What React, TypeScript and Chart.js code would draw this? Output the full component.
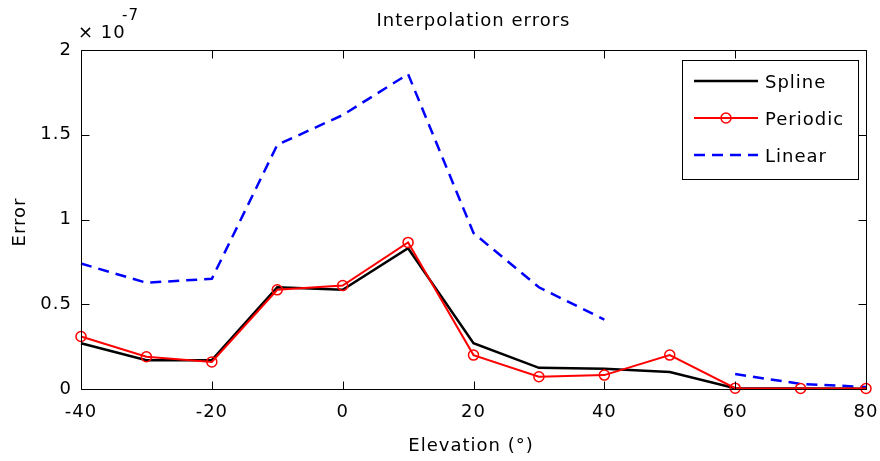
import React, { useEffect, useRef } from 'react';
import { Chart, registerables } from 'chart.js';
Chart.register(...registerables);

const elevations = [-40, -30, -20, -10, 0, 10, 20, 30, 40, 50, 60, 70, 80];
const splineErr = [0.27, 0.17, 0.17, 0.6, 0.585, 0.83, 0.27, 0.125, 0.12, 0.1, 0.005, 0.003, 0.002];
const periodicErr = [0.31, 0.19, 0.16, 0.585, 0.61, 0.865, 0.2, 0.072, 0.082, 0.2, 0.005, 0.003, 0.003];
const linearErr = [0.74, 0.627, 0.65, 1.44, 1.616, 1.858, 0.92, 0.6, 0.41, null, 0.088, 0.03, 0.012];
const xTicks = [-40, -20, 0, 20, 40, 60, 80];
const yTicks = [0, 0.5, 1, 1.5, 2];
const seriesNames = ['Spline', 'Periodic', 'Linear'];
const titleText = 'Interpolation errors';
const xTitle = 'Elevation (°)';
const yTitle = 'Error';
const multiplierBase = '× 10';
const multiplierExp = '-7';

const FONT = '"DejaVu Sans", sans-serif';
const TEXT = '#000';

const toPts = (arr: (number | null)[]) => elevations.map((x, i) => ({ x, y: arr[i] }));

const decor = {
  id: 'decor',
  beforeDraw(chart: any) {
    chart.ctx.letterSpacing = '1px';
  },
  afterDatasetsDraw(chart: any) {
    const { ctx, chartArea: a, scales } = chart;
    ctx.save();
    ctx.strokeStyle = '#000';
    ctx.lineWidth = 1;
    const L = Math.round(a.left) + 0.5, R = Math.round(a.right) + 0.5;
    const T = Math.round(a.top) + 0.5, B = Math.round(a.bottom) + 0.5;
    ctx.beginPath();
    ctx.rect(L, T, R - L, B - T);
    const tl = 8;
    scales.x.ticks.forEach((t: any) => {
      const px = Math.round(scales.x.getPixelForValue(t.value)) + 0.5;
      ctx.moveTo(px, B); ctx.lineTo(px, B - tl);
      ctx.moveTo(px, T); ctx.lineTo(px, T + tl);
    });
    scales.y.ticks.forEach((t: any) => {
      const py = Math.round(scales.y.getPixelForValue(t.value)) + 0.5;
      ctx.moveTo(L, py); ctx.lineTo(L + tl, py);
      ctx.moveTo(R, py); ctx.lineTo(R - tl, py);
    });
    ctx.stroke();
    ctx.restore();
  },
  afterDraw(chart: any) {
    const { ctx, chartArea: a } = chart;
    ctx.save();
    ctx.letterSpacing = '1px';
    ctx.fillStyle = TEXT;
    ctx.font = `18px ${FONT}`;
    ctx.textAlign = 'center';
    ctx.textBaseline = 'middle';
    ctx.fillText(titleText, (a.left + a.right) / 2, 21);
    ctx.fillText(xTitle, 471, 446);
    ctx.save();
    ctx.translate(20, 222);
    ctx.rotate(-Math.PI / 2);
    ctx.fillText(yTitle, 0, 0);
    ctx.restore();
    ctx.textAlign = 'left';
    ctx.fillText(multiplierBase, 78, 33);
    ctx.font = `15px ${FONT}`;
    ctx.fillText(multiplierExp, 122, 16);

    // legend
    const bx = 682.5, by = 60.5, bw = 176, bh = 119;
    ctx.fillStyle = '#fff';
    ctx.fillRect(bx, by, bw, bh);
    ctx.strokeStyle = '#000';
    ctx.lineWidth = 1;
    ctx.strokeRect(bx, by, bw, bh);
    const rows = [81, 118, 155];
    chart.data.datasets.forEach((ds: any, i: number) => {
      const y = rows[i];
      ctx.save();
      ctx.strokeStyle = ds.borderColor;
      ctx.lineWidth = ds.borderWidth;
      ctx.setLineDash(ds.borderDash || []);
      ctx.beginPath();
      ctx.moveTo(694, y);
      ctx.lineTo(758, y);
      ctx.stroke();
      ctx.setLineDash([]);
      if (ds.pointRadius > 0) {
        ctx.lineWidth = ds.pointBorderWidth;
        ctx.beginPath();
        ctx.arc(726, y, ds.pointRadius, 0, Math.PI * 2);
        ctx.stroke();
      }
      ctx.restore();
      ctx.fillStyle = TEXT;
      ctx.font = `18px ${FONT}`;
      ctx.textAlign = 'left';
      ctx.textBaseline = 'middle';
      ctx.fillText(ds.label, 765, y + 2);
    });
    ctx.restore();
  },
};

export default function App() {
  const ref = useRef<HTMLCanvasElement>(null);
  useEffect(() => {
    document.body.style.margin = '0';
    const chart = new Chart(ref.current!, {
      type: 'line',
      data: {
        datasets: [
          {
            label: seriesNames[0],
            data: toPts(splineErr),
            borderColor: '#000000',
            borderWidth: 2.5,
            pointRadius: 0,
            tension: 0,
            order: 1,
            clip: false,
          },
          {
            label: seriesNames[1],
            data: toPts(periodicErr),
            borderColor: '#ff0000',
            borderWidth: 2,
            pointRadius: 5,
            pointStyle: 'circle',
            pointBorderColor: '#ff0000',
            pointBorderWidth: 1.5,
            pointBackgroundColor: 'rgba(0,0,0,0)',
            tension: 0,
            order: 0,
            clip: false,
          },
          {
            label: seriesNames[2],
            data: toPts(linearErr),
            borderColor: '#0000ff',
            borderWidth: 2.5,
            borderDash: [11, 7],
            pointRadius: 0,
            tension: 0,
            spanGaps: false,
            order: 2,
            clip: false,
          },
        ] as any,
      },
      options: {
        animation: false,
        responsive: true,
        maintainAspectRatio: false,
        layout: { padding: { top: 50, right: 14, left: 0, bottom: 0 } },
        plugins: { legend: { display: false }, tooltip: { enabled: false }, title: { display: false } },
        scales: {
          x: {
            type: 'linear',
            min: -40,
            max: 80,
            afterBuildTicks: (s: any) => { s.ticks = xTicks.map((v) => ({ value: v })); },
            afterFit: (s: any) => { s.height = 72; s.paddingLeft = 0; s.paddingRight = 0; },
            grid: { display: false, drawTicks: false },
            border: { display: false },
            ticks: { color: TEXT, font: { family: FONT, size: 18 }, padding: 13, maxRotation: 0, autoSkip: false, callback: (v: any) => String(v) },
          },
          y: {
            type: 'linear',
            min: 0,
            max: 2,
            afterBuildTicks: (s: any) => { s.ticks = yTicks.map((v) => ({ value: v })); },
            afterFit: (s: any) => { s.width = 81; s.paddingTop = 0; s.paddingBottom = 0; },
            grid: { display: false, drawTicks: false },
            border: { display: false },
            ticks: { color: TEXT, font: { family: FONT, size: 18 }, padding: 9, autoSkip: false, callback: (v: any) => String(v) },
          },
        },
      } as any,
      plugins: [decor],
    });
    return () => chart.destroy();
  }, []);
  return (
    <div style={{ position: 'fixed', left: 0, top: 0, width: 880, height: 461 }}>
      <canvas ref={ref} />
    </div>
  );
}
